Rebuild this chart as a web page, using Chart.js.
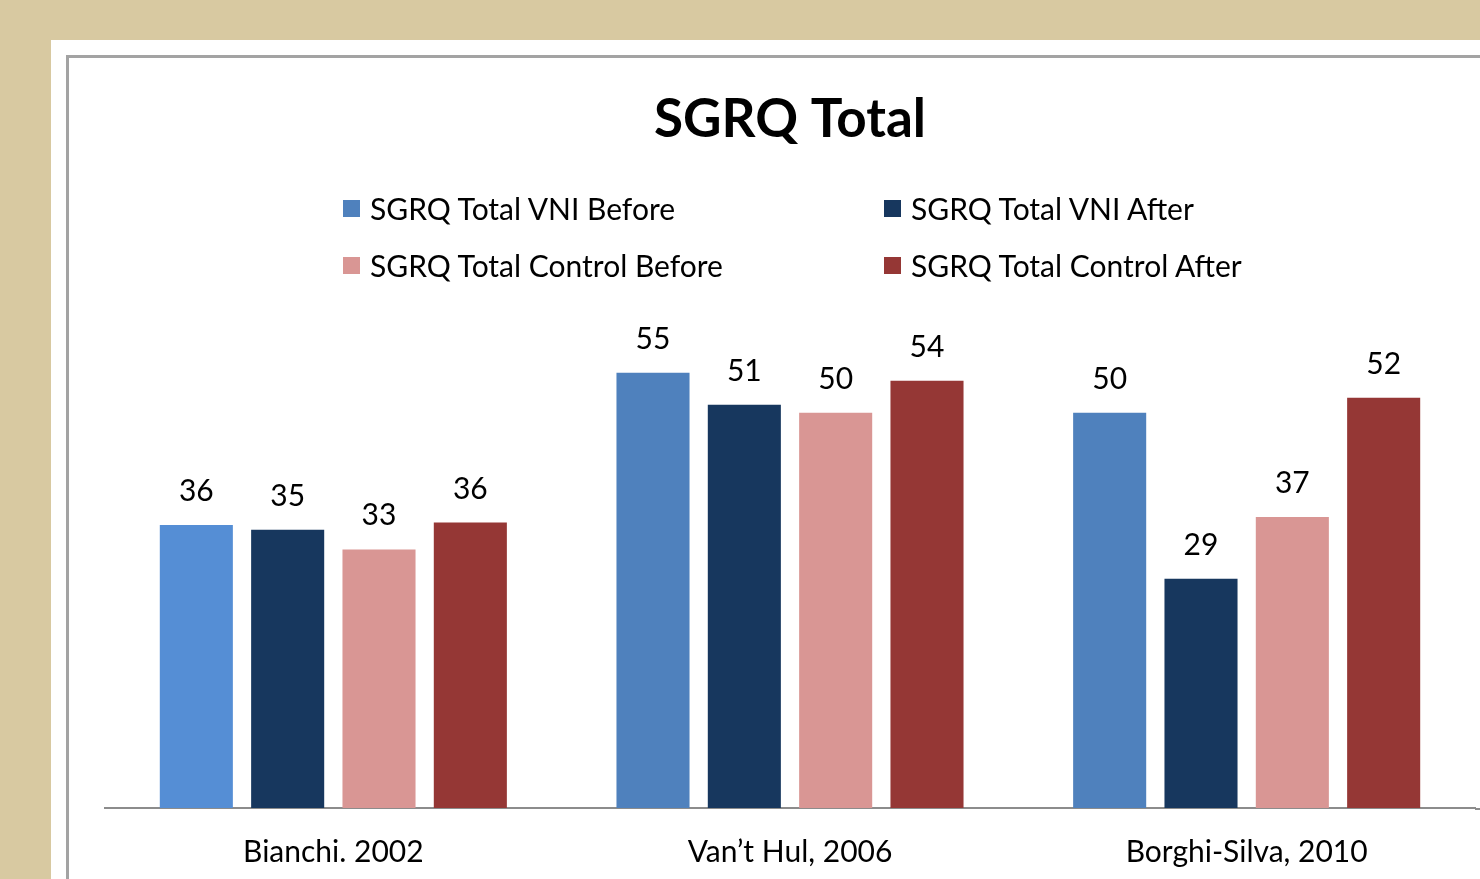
<!DOCTYPE html>
<html>
<head>
<meta charset="utf-8">
<script src="https://cdn.jsdelivr.net/npm/chart.js@4/dist/chart.umd.min.js"></script>
<style>
  html, body { margin: 0; padding: 0; }
  body { width: 1480px; height: 879px; background: #D8C9A1; position: relative; overflow: hidden; font-family: Lato, "Noto Sans", sans-serif; }
  #panel { position: absolute; left: 51px; top: 40px; width: 1429px; height: 839px; background: #fff; }
  #frame { position: absolute; left: 66px; top: 55px; width: 1500px; height: 900px; border-left: 3px solid #A3A3A3; border-top: 3px solid #A3A3A3; }
  #c { position: absolute; left: 0; top: 0; }
  .leg { position: absolute; font-size: 30px; color: #000; white-space: nowrap; line-height: 34px; }
  .leg i { position: absolute; left: -27px; top: 9px; width: 17px; height: 17px; }
</style>
</head>
<body>
<div id="panel"></div>
<div id="frame"></div>
<canvas id="c" width="1480" height="879"></canvas>
<div id="legend"></div>
<script>
const categories = ["Bianchi. 2002", "Van\u2019t Hul, 2006", "Borghi-Silva, 2010"];
const seriesNames = ["SGRQ Total VNI Before", "SGRQ Total VNI After", "SGRQ Total Control Before", "SGRQ Total Control After"];
const vniBefore = [35.8, 55.05, 50];
const vniAfter = [35.2, 51, 29];
const controlBefore = [32.7, 50, 36.8];
const controlAfter = [36.1, 54.05, 51.9];
const seriesColors = ["#4F81BD", "#17375E", "#D99694", "#953735"];
const vniBeforeBarColors = ["#558ED5", "#4F81BD", "#4F81BD"];
const yTicks = [0, 60];

const FONT = 'Lato, "Noto Sans", sans-serif';

// HTML legend (2 x 2 grid)
const legendPos = [[370, 191], [911, 191], [370, 248], [911, 248]];
const legendOrder = [0, 1, 2, 3];
const legendEl = document.getElementById('legend');
legendOrder.forEach((si, k) => {
  const d = document.createElement('div');
  d.className = 'leg';
  d.style.left = legendPos[k][0] + 'px';
  d.style.top = legendPos[k][1] + 'px';
  const sw = document.createElement('i');
  sw.style.background = seriesColors[si];
  d.appendChild(sw);
  d.appendChild(document.createTextNode(seriesNames[si]));
  legendEl.appendChild(d);
});

const valueLabels = {
  id: 'valueLabels',
  afterDatasetsDraw(chart) {
    const ctx = chart.ctx;
    ctx.save();
    ctx.font = '30px ' + FONT;
    ctx.fillStyle = '#000';
    ctx.textAlign = 'center';
    ctx.textBaseline = 'alphabetic';
    chart.data.datasets.forEach((ds, i) => {
      chart.getDatasetMeta(i).data.forEach((bar, j) => {
        ctx.fillText(String(Math.round(ds.data[j])), bar.x, bar.y - 24);
      });
    });
    ctx.restore();
  }
};

const axisExtend = {
  id: 'axisExtend',
  afterDraw(chart) {
    const ctx = chart.ctx, a = chart.chartArea;
    ctx.save();
    ctx.strokeStyle = '#8C8C8C';
    ctx.lineWidth = 2;
    ctx.beginPath();
    ctx.moveTo(a.right, a.bottom + 1);
    ctx.lineTo(chart.width, a.bottom + 1);
    ctx.stroke();
    ctx.restore();
  }
};

const allData = [vniBefore, vniAfter, controlBefore, controlAfter];
new Chart(document.getElementById('c'), {
  type: 'bar',
  data: {
    labels: categories,
    datasets: seriesNames.map((name, i) => ({
      label: name,
      data: allData[i],
      backgroundColor: i === 0 ? vniBeforeBarColors : seriesColors[i],
      borderWidth: 0,
      categoryPercentage: 0.8,
      barPercentage: 0.8
    }))
  },
  options: {
    responsive: false,
    animation: false,
    layout: { padding: { left: 105, right: 5, top: 0, bottom: -17 } },
    plugins: {
      legend: { display: false },
      tooltip: { enabled: false },
      title: {
        display: true,
        text: 'SGRQ Total',
        color: '#000',
        font: { family: FONT, size: 53, weight: 'bold', lineHeight: 1.2 },
        padding: { top: 88, bottom: 182 }
      }
    },
    scales: {
      x: {
        grid: { display: false, drawTicks: false },
        border: { display: true, color: '#8C8C8C', width: 2 },
        ticks: { color: '#000', font: { family: FONT, size: 30, lineHeight: 1.2 }, padding: 26, maxRotation: 0 }
      },
      y: {
        display: false,
        min: yTicks[0],
        max: yTicks[1]
      }
    }
  },
  plugins: [valueLabels, axisExtend]
});
</script>
</body>
</html>
